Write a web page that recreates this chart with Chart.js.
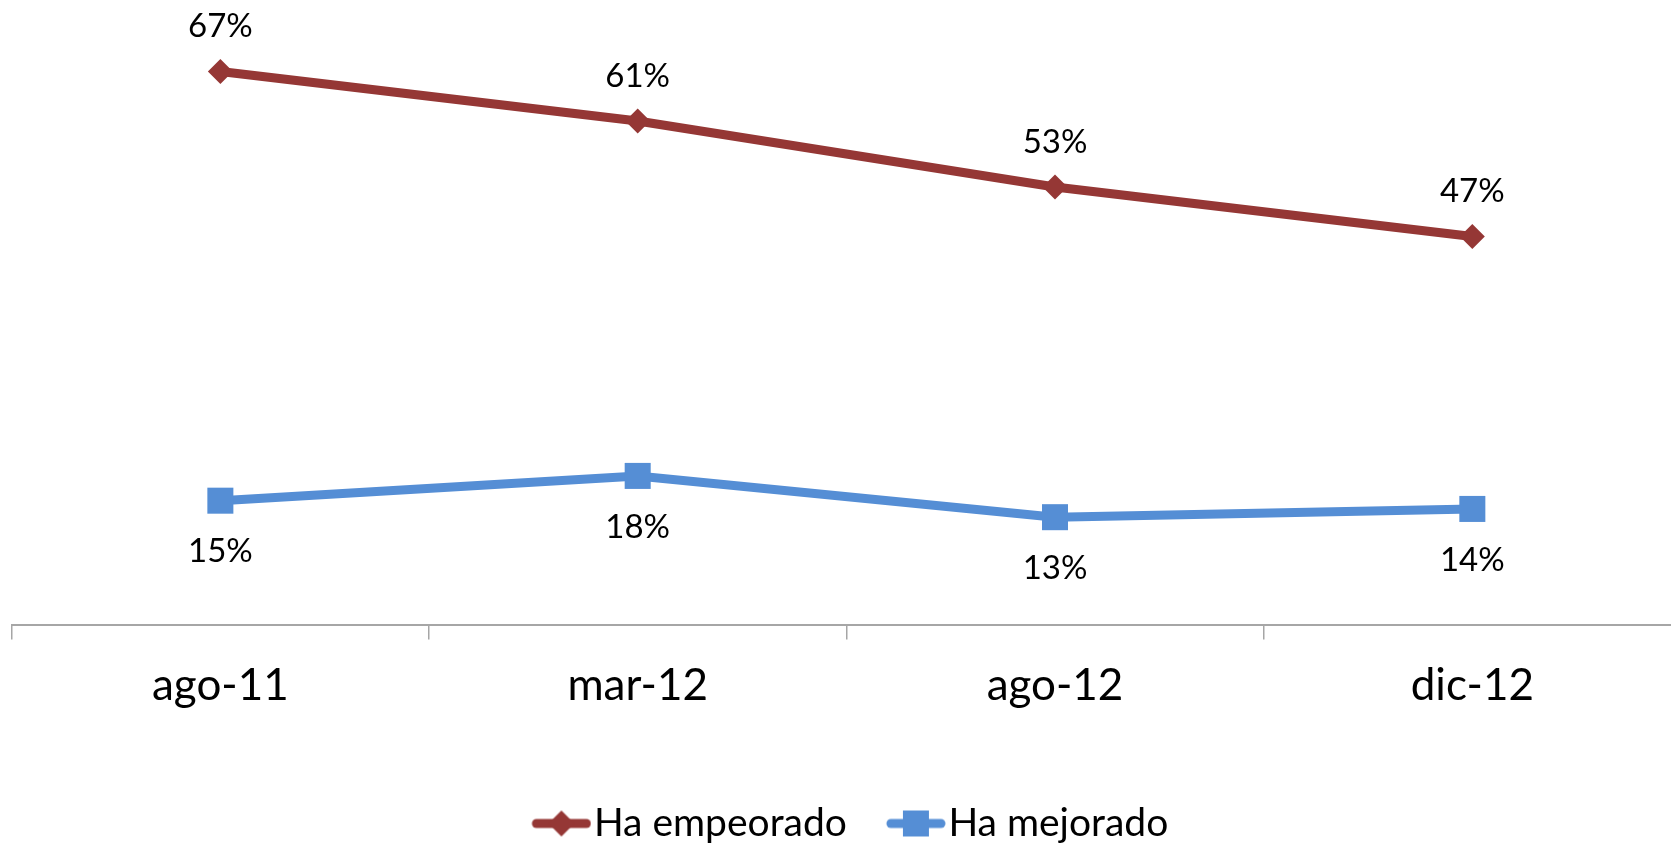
<!DOCTYPE html>
<html>
<head>
<meta charset="utf-8">
<script src="https://cdn.jsdelivr.net/npm/chart.js@4.4.0/dist/chart.umd.min.js"></script>
<style>
body{margin:0;overflow:hidden;background:#fff}
#wrap{width:1690px;height:844px;position:relative}
</style>
</head>
<body>
<div id="wrap"><canvas id="myChart"></canvas></div>
<script>
var categories=['ago-11','mar-12','ago-12','dic-12']
var empeorado=[67,61,53,47]
var mejorado=[15,18,13,14]
var seriesNames=['Ha empeorado','Ha mejorado']

var red='#953735'
var blue='#558ED5'

// little line+marker picture for the legend, like the excel one
function legendIcon(color,shape){
  var c=document.createElement('canvas')
  c.width=104;c.height=30
  var g=c.getContext('2d')
  g.strokeStyle=color;g.lineWidth=9;g.lineCap='round'
  g.beginPath();g.moveTo(49,15);g.lineTo(99,15);g.stroke()
  g.fillStyle=color
  if(shape=='diamond'){
    g.beginPath();g.moveTo(74,2);g.lineTo(87,15);g.lineTo(74,28);g.lineTo(61,15);g.closePath();g.fill()
  }else{
    g.fillRect(61,2,26,26)
  }
  return c
}

var valueLabels={
  id:'valueLabels',
  afterDatasetsDraw:function(chart){
    var ctx=chart.ctx
    ctx.save()
    ctx.font='33px Lato'
    ctx.fillStyle='#000'
    ctx.textAlign='center'
    ctx.textBaseline='middle'
    chart.data.datasets.forEach(function(ds,i){
      var meta=chart.getDatasetMeta(i)
      meta.data.forEach(function(pt,j){
        ctx.fillText(ds.data[j]+'%',pt.x,pt.y+ds.labelShift)
      })
    })
    ctx.restore()
  }
}

// nudge the legend a bit, excel puts it lower and a little left
var legendShift={
  id:'legendShift',
  afterLayout:function(chart){
    chart.legend.left-=10
    chart.legend.right-=10
    chart.legend.top+=9
    chart.legend.bottom+=9
  }
}

Chart.defaults.font.family='Lato'
Chart.defaults.color='#000'

var icons=[legendIcon(red,'diamond'),legendIcon(blue,'square')]

const ctx=document.getElementById('myChart').getContext('2d')
var myChart=new Chart(ctx,{
  type:'line',
  data:{
    labels:categories,
    datasets:[{
      label:seriesNames[0],
      data:empeorado,
      borderColor:red,
      backgroundColor:red,
      borderWidth:9,
      pointStyle:'rectRot',
      pointRadius:12.5,
      pointHoverRadius:12.5,
      pointBorderWidth:0,
      tension:0,
      clip:false,
      labelShift:-45
    },{
      label:seriesNames[1],
      data:mejorado,
      borderColor:blue,
      backgroundColor:blue,
      borderWidth:9,
      pointStyle:'rect',
      pointRadius:18.4,
      pointHoverRadius:18.4,
      pointBorderWidth:0,
      tension:0,
      clip:false,
      labelShift:51
    }]
  },
  options:{
    responsive:true,
    maintainAspectRatio:false,
    animation:false,
    layout:{autoPadding:false,padding:{top:5.4,left:11.7,right:9,bottom:0}},
    scales:{
      y:{display:false,min:0,max:75},
      x:{
        offset:true,
        grid:{display:true,drawOnChartArea:false,drawTicks:true,tickLength:15,color:'#A6A6A6',lineWidth:1.5,offset:true},
        border:{display:true,color:'#A6A6A6',width:2},
        ticks:{font:{size:44},padding:20,color:'#000'},
        afterFit:function(axis){axis.height=158.5}
      }
    },
    plugins:{
      tooltip:{enabled:false},
      legend:{
        position:'bottom',
        labels:{
          usePointStyle:true,
          pointStyleWidth:70,
          font:{size:39},
          padding:12,
          generateLabels:function(chart){
            return chart.data.datasets.map(function(ds,i){
              return {text:ds.label,pointStyle:icons[i],fillStyle:ds.borderColor,strokeStyle:ds.borderColor,lineWidth:0,datasetIndex:i,fontColor:'#000'}
            })
          }
        }
      }
    }
  },
  plugins:[valueLabels,legendShift]
})
</script>
</body>
</html>
